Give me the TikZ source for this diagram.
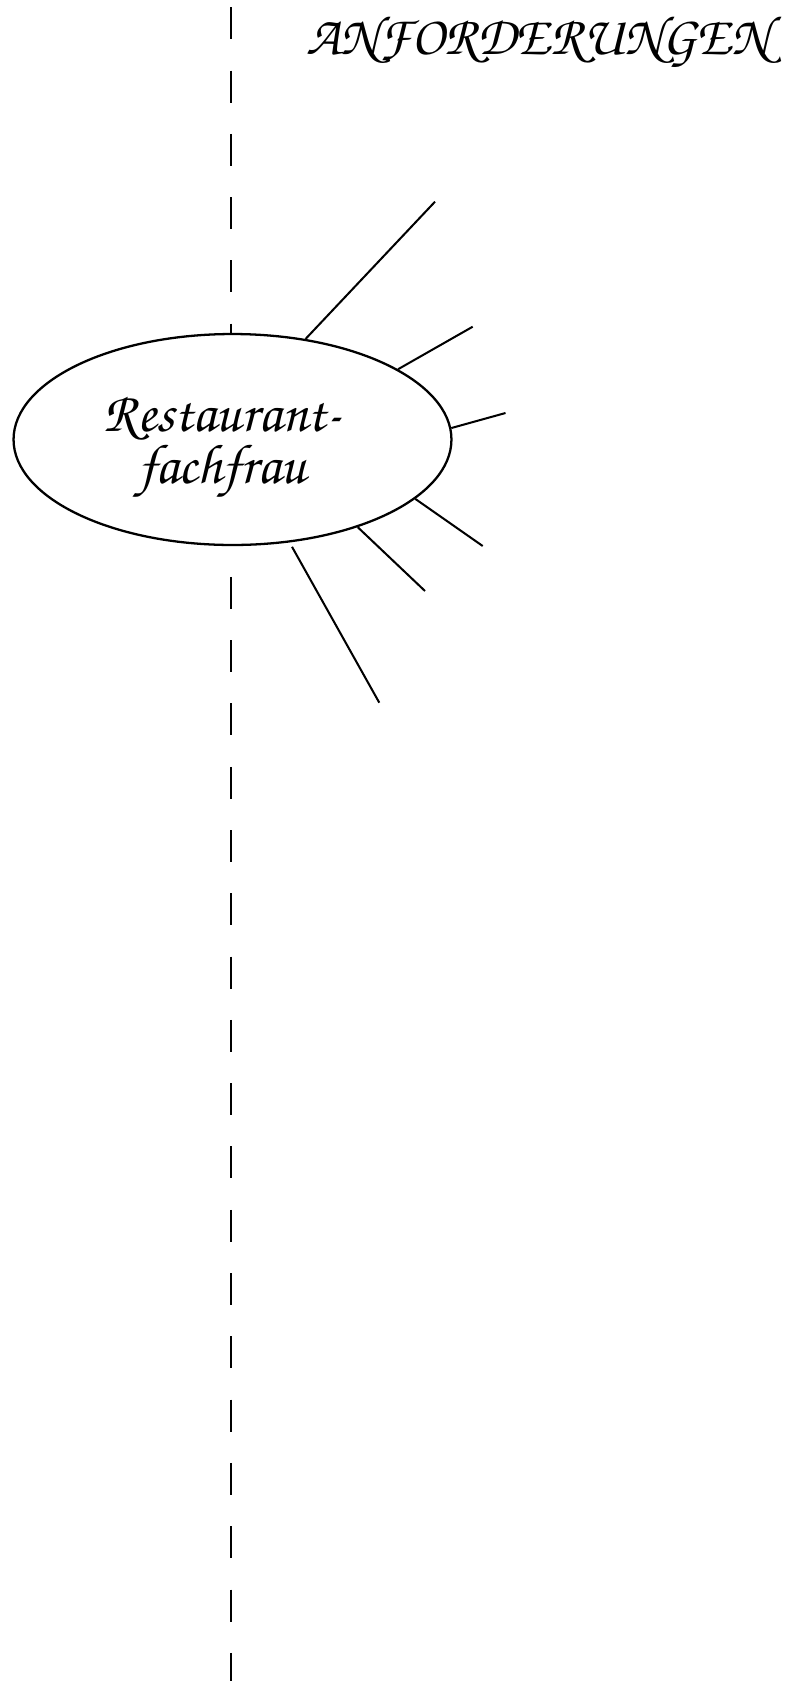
\documentclass[tikz,border=0pt]{standalone}
\usepackage[T1]{fontenc}
\usepackage{tikz}
\usetikzlibrary{shapes.geometric}
\newcommand{\handfont}{\fontencoding{T1}\fontfamily{pzc}\fontseries{mb}\fontshape{it}\selectfont}

\begin{document}
\begin{tikzpicture}[
    x=0.02cm, y=-0.02cm,
    jobbox/.style={draw, ellipse, line width=1.3pt, fill=white, minimum width=8.76cm, minimum height=4.22cm, inner sep=0pt},
    ray/.style={line width=1.15pt},
    axisline/.style={line width=1.25pt, dash pattern=on 0.64cm off 0.626cm},
    titlelabel/.style={font=\handfont\fontsize{31.4}{36}\selectfont},
    joblabel/.style={font=\handfont\fontsize{32}{27.3}\selectfont, align=center},
]
\useasboundingbox (0,0) rectangle (790,1681);

% === Axis ===
\coordinate (axtop) at (231,7.3);
\coordinate (axbot) at (231,1681);
\draw[axisline] (axtop) -- (axbot);

% === Title ===
\node[titlelabel] (anf) at (538,42) {ANFORDERUNGEN};

% === Job ===
\node[jobbox] (fach) at (232.5,439.5) {};
\node[joblabel] (fachtext) at ([xshift=-0.2cm, yshift=-0.16cm]fach.center) {Restaurant-\\fachfrau};

% === Rays ===
\coordinate (r1) at (435,201.7);
\coordinate (r2) at (472.7,326.7);
\coordinate (r3) at (505.5,413);
\coordinate (r4) at (482.7,546);
\coordinate (r5) at (425,591);
\coordinate (r6) at (379.3,702.7);
\draw[ray] (fach.54.8) -- (r1);
\draw[ray] (fach.23) -- (r2);
\draw[ray] (fach.3.1) -- (r3);
\draw[ray] (fach.-18.4) -- (r4);
\draw[ray] (fach.-35.4) -- (r5);
\draw[ray, shorten <=0.1cm] (fach.-61) -- (r6);

\end{tikzpicture}
\end{document}
